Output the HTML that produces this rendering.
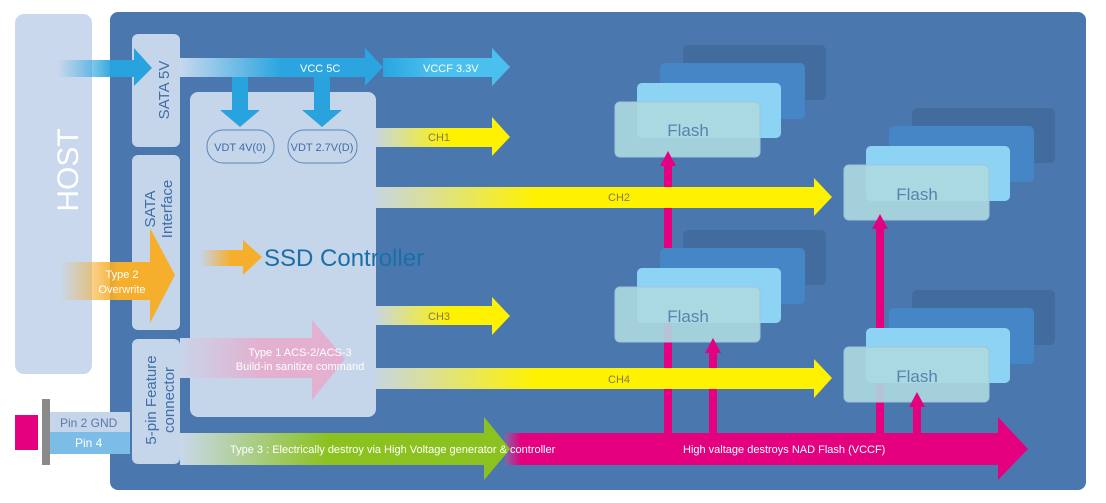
<!DOCTYPE html>
<html><head><meta charset="utf-8"><style>
body{margin:0;background:#fff}
svg{display:block;font-family:"Liberation Sans",sans-serif}
</style></head><body>
<svg width="1106" height="503" viewBox="0 0 1106 503">
<defs>
<linearGradient id="bl" x1="0" x2="1"><stop offset="0" stop-color="#29a3de" stop-opacity="0"/><stop offset="0.6" stop-color="#29a3de"/></linearGradient>
<linearGradient id="bl2" x1="0" x2="1"><stop offset="0" stop-color="#c5d8ee"/><stop offset="0.5" stop-color="#2aa5e0"/></linearGradient>
<linearGradient id="bl3" x1="0" x2="1"><stop offset="0" stop-color="#2aa5e0"/><stop offset="0.4" stop-color="#4ac0ee"/></linearGradient>
<linearGradient id="ye" x1="0" x2="1"><stop offset="0" stop-color="#c8d6e0"/><stop offset="0.55" stop-color="#fff200"/></linearGradient>
<linearGradient id="ye2" x1="0" x2="1"><stop offset="0" stop-color="#c8d6e0"/><stop offset="0.35" stop-color="#fff200"/></linearGradient>
<linearGradient id="or" x1="0" x2="1"><stop offset="0" stop-color="#f6ae2d" stop-opacity="0"/><stop offset="0.5" stop-color="#f6ae2d"/></linearGradient>
<linearGradient id="pk" x1="0" x2="1"><stop offset="0" stop-color="#c9d4ea"/><stop offset="0.5" stop-color="#e3b0cf"/></linearGradient>
<linearGradient id="gr" x1="0" x2="1"><stop offset="0" stop-color="#c8d8ea"/><stop offset="0.45" stop-color="#8cc21f"/></linearGradient>
<linearGradient id="mg" x1="0" x2="1"><stop offset="0" stop-color="#7f66a8"/><stop offset="0.2" stop-color="#e4007e"/></linearGradient>
</defs>
<rect x="15" y="14" width="77" height="360" rx="9" fill="#c9d8ec"/>
<text transform="translate(78,170) rotate(-90)" text-anchor="middle" font-size="30" fill="#fff">HOST</text>
<rect x="110" y="12" width="976" height="478" rx="8" fill="#4a78ae"/>
<rect x="132" y="34" width="48" height="113" rx="6" fill="#c5d5ea"/>
<rect x="132" y="155" width="48" height="175" rx="6" fill="#c5d5ea"/>
<rect x="132" y="339" width="48" height="125" rx="6" fill="#c5d5ea"/>
<rect x="190" y="92" width="186" height="325" rx="8" fill="#c5d5ea"/>
<text transform="translate(169,90) rotate(-90)" text-anchor="middle" font-size="15" fill="#3f6ea8">SATA 5V</text>
<text transform="translate(155,209) rotate(-90)" text-anchor="middle" font-size="15" fill="#3f6ea8">SATA</text>
<text transform="translate(172,209) rotate(-90)" text-anchor="middle" font-size="15" fill="#3f6ea8">Interface</text>
<text transform="translate(156,400) rotate(-90)" text-anchor="middle" font-size="15" fill="#3f6ea8">5-pin Feature</text>
<text transform="translate(174,400) rotate(-90)" text-anchor="middle" font-size="15" fill="#3f6ea8">connector</text>
<!-- pink verticals (behind flash) -->
<g fill="#e4007e">
<rect x="664" y="160" width="8" height="275"/>
<rect x="709" y="348" width="8" height="87"/>
<rect x="876" y="224" width="8" height="211"/>
<rect x="913" y="402" width="8" height="33"/>
</g>
<!-- flash stacks -->
<g id="fs">
<rect x="683" y="45" width="143" height="55" rx="5" fill="#426c9e"/>
<rect x="660" y="63" width="145" height="56" rx="5" fill="#4587c6"/>
<rect x="637" y="83" width="144" height="55" rx="5" fill="#8dd3f3"/>
<rect x="615" y="102" width="145" height="55" rx="5" fill="#aed9e0" fill-opacity="0.9" stroke="#9fc4dc"/>
</g>
<use href="#fs" transform="translate(229,63)"/>
<use href="#fs" transform="translate(0,185)"/>
<use href="#fs" transform="translate(229,245)"/>
<g font-size="17" fill="#5a82b0" text-anchor="middle">
<text x="688" y="136">Flash</text><text x="917" y="200">Flash</text>
<text x="688" y="322">Flash</text><text x="917" y="382">Flash</text></g>
<g fill="#e4007e">
<rect x="664" y="165" width="8" height="10"/><polygon points="660,166 676,166 668,151"/>
<rect x="709" y="352" width="8" height="10"/><polygon points="705,353 721,353 713,338"/>
<rect x="876" y="228" width="8" height="10"/><polygon points="872,229 888,229 880,214"/>
<rect x="913" y="406" width="8" height="10"/><polygon points="909,407 925,407 917,392"/>
</g>
<!-- blue power arrows -->
<polygon points="58,60 134,60 134,48 152,68 134,86 134,77 58,77" fill="url(#bl)"/>
<polygon points="180,58 365,58 365,48 383,67 365,86 365,77 180,77" fill="url(#bl2)"/>
<polygon points="383,58 492,58 492,48 510,67 492,86 492,77 383,77" fill="url(#bl3)"/>
<polygon points="232,77 248,77 248,110 260,110 240,127 220,110 232,110" fill="#29a3de"/>
<polygon points="314,77 330,77 330,110 342,110 322,127 302,110 314,110" fill="#29a3de"/>
<g font-size="11" fill="#fff"><text x="300" y="72">VCC 5C</text><text x="423" y="72">VCCF 3.3V</text></g>
<rect x="207" y="130" width="67" height="33" rx="16" fill="none" stroke="#5b86bb"/>
<rect x="288" y="130" width="69" height="33" rx="16" fill="none" stroke="#5b86bb"/>
<g font-size="11" fill="#3f6ea8" text-anchor="middle"><text x="240" y="151">VDT 4V(0)</text><text x="322" y="151">VDT 2.7V(D)</text></g>
<!-- channels -->
<polygon points="376,128 492,128 492,117 510,137 492,156 492,147 376,147" fill="url(#ye)"/>
<polygon points="376,187 814,187 814,178 832,197 814,216 814,208 376,208" fill="url(#ye2)"/>
<polygon points="376,306 492,306 492,297 510,316 492,335 492,325 376,325" fill="url(#ye)"/>
<polygon points="376,368 814,368 814,359 832,378 814,398 814,389 376,389" fill="url(#ye2)"/>
<g font-size="11" fill="#8a7a3a"><text x="428" y="141">CH1</text><text x="608" y="201">CH2</text><text x="428" y="320">CH3</text><text x="608" y="383">CH4</text></g>
<!-- orange -->
<polygon points="60,262 150,262 150,228 175,275 150,323 150,300 60,300" fill="url(#or)"/>
<polygon points="200,250 243,250 243,240 262,257 243,275 243,266 200,266" fill="url(#or)"/>
<g font-size="11" fill="#fff" text-anchor="middle"><text x="122" y="278">Type 2</text><text x="122" y="293">Overwrite</text></g>
<text x="264" y="266" font-size="24" fill="#1b6fa8">SSD Controller</text>
<!-- pink type1 -->
<polygon points="180,338 312,338 312,320 345,359 312,400 312,378 180,378" fill="url(#pk)"/>
<g font-size="11" fill="#fff" text-anchor="middle"><text x="300" y="356">Type 1 ACS-2/ACS-3</text><text x="300" y="370">Build-in sanitize command</text></g>
<!-- bottom -->
<polygon points="180,433 484,433 484,417 510,449 484,480 484,465 180,465" fill="url(#gr)"/>
<polygon points="585,433 998,433 998,417 1028,449 998,480 998,465 585,465" fill="#e4007e"/>
<polygon points="505,433 585,433 585,465 505,465" fill="url(#mg)"/>
<polygon points="484,417 510,449 484,480" fill="#8cc21f"/>
<g font-size="11" fill="#fff"><text x="230" y="453">Type 3 : Electrically destroy via High Voltage generator &amp; controller</text><text x="683" y="453">High valtage destroys NAD Flash (VCCF)</text></g>
<!-- pins -->
<rect x="50" y="412" width="80" height="20" fill="#c5d5ea"/>
<rect x="50" y="432" width="80" height="22" fill="#7bbde6"/>
<rect x="15" y="415" width="23" height="35" fill="#e4007e"/>
<rect x="42" y="399" width="8" height="66" fill="#8a8a8a"/>
<text x="60" y="427" font-size="12" fill="#5a7aa8">Pin 2 GND</text>
<text x="75" y="447" font-size="12" fill="#fff">Pin 4</text>
</svg>
</body></html>
